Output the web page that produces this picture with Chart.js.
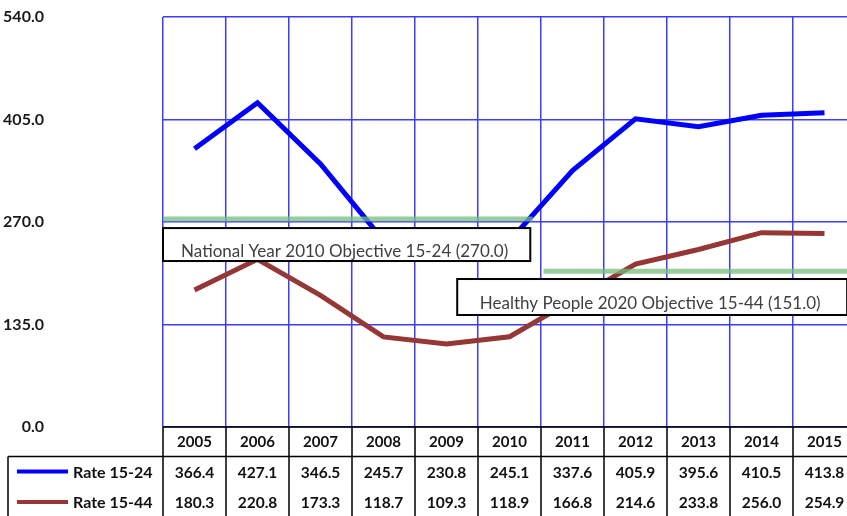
<!DOCTYPE html>
<html><head><meta charset="utf-8">
<script src="https://cdn.jsdelivr.net/npm/chart.js@4/dist/chart.umd.min.js"></script>
<style>
html,body{margin:0;padding:0;overflow:hidden;background:#fff}
#wrap{width:847px;height:516px;overflow:hidden;position:relative}
canvas{display:block}
</style>
</head><body><div id="wrap"><canvas id="c" width="862" height="516"></canvas></div>
<script>
const years = ['2005','2006','2007','2008','2009','2010','2011','2012','2013','2014','2015'];
const rate1524 = [366.4, 427.1, 346.5, 245.7, 230.8, 245.1, 337.6, 405.9, 395.6, 410.5, 413.8];
const rate1544 = [180.3, 220.8, 173.3, 118.7, 109.3, 118.9, 166.8, 214.6, 233.8, 256.0, 254.9];
const seriesNames = ['Rate 15-24', 'Rate 15-44'];
const yMin = 0, yMax = 540, yStep = 135;
// objective reference lines (levels as drawn in the picture)
const objective1Level = 274;
const objective2Level = 205;
const objective1Label = 'National Year 2010 Objective 15-24 (270.0)';
const objective2Label = 'Healthy People 2020 Objective 15-44 (151.0)';

const BLUE = '#0000ff', BROWN = '#953735', GRID = 'rgb(60,60,255)', GREEN = 'rgba(118,190,122,0.75)';
const FONT = 'Lato, "Open Sans", sans-serif';

function xAt(chart, f) {
  const x = chart.scales.x;
  const p0 = x.getPixelForValue(0), p1 = x.getPixelForValue(1);
  return p0 + f * (p1 - p0);
}

const annotPlugin = {
  id: 'annot',
  afterDatasetsDraw(chart) {
    const {ctx, chartArea: a, scales: {y}} = chart;
    ctx.save();
    ctx.strokeStyle = GREEN; ctx.lineWidth = 5; ctx.lineCap = 'butt';
    ctx.beginPath();
    ctx.moveTo(a.left, y.getPixelForValue(objective1Level));
    ctx.lineTo(xAt(chart, 5.37), y.getPixelForValue(objective1Level));
    ctx.stroke();
    ctx.beginPath();
    ctx.moveTo(xAt(chart, 5.54), y.getPixelForValue(objective2Level));
    ctx.lineTo(a.right, y.getPixelForValue(objective2Level));
    ctx.stroke();
    const box = (f0, f1, v0, v1, text) => {
      const x0 = xAt(chart, f0), x1 = xAt(chart, f1);
      const y0 = y.getPixelForValue(v0), y1 = y.getPixelForValue(v1);
      ctx.fillStyle = '#fff';
      ctx.fillRect(x0, y0, x1 - x0, y1 - y0);
      ctx.strokeStyle = '#000'; ctx.lineWidth = 2;
      ctx.strokeRect(x0, y0, x1 - x0, y1 - y0);
      ctx.fillStyle = '#404040';
      ctx.font = '17px ' + FONT;
      ctx.textAlign = 'center'; ctx.textBaseline = 'middle';
      ctx.fillText(text, (x0 + x1) / 2 - 2, (y0 + y1) / 2 + 7);
    };
    box(-0.5, 5.33, 262, 218.6, objective1Label);
    box(4.17, 10.36, 194.9, 147.5, objective2Label);
    ctx.restore();
  }
};

const tablePlugin = {
  id: 'table',
  afterDraw(chart) {
    const {ctx, chartArea: a, scales: {x}} = chart;
    const step = x.getPixelForValue(1) - x.getPixelForValue(0);
    const top = a.bottom;
    const hdrBottom = top + 29.5;
    const H = chart.height;
    ctx.save();
    ctx.strokeStyle = '#000'; ctx.lineWidth = 1.5;
    ctx.beginPath();
    ctx.moveTo(a.left, top); ctx.lineTo(a.right, top);
    ctx.moveTo(8, hdrBottom); ctx.lineTo(a.right, hdrBottom);
    ctx.moveTo(8, hdrBottom); ctx.lineTo(8, H);
    for (let i = 0; i <= years.length; i++) {
      const xx = a.left + i * step;
      ctx.moveTo(xx, top); ctx.lineTo(xx, H);
    }
    ctx.stroke();
    ctx.fillStyle = '#111';
    ctx.textAlign = 'center'; ctx.textBaseline = 'middle';
    const r1 = hdrBottom + 16, r2 = hdrBottom + 46.5;
    years.forEach((yr, i) => {
      const cx = x.getPixelForValue(i);
      ctx.font = 'bold 15px ' + FONT;
      ctx.fillText(yr, cx, top + 15);
      ctx.font = 'bold 15.5px ' + FONT;
      ctx.fillText(rate1524[i].toFixed(1), cx, r1);
      ctx.fillText(rate1544[i].toFixed(1), cx, r2);
    });
    const ds = chart.data.datasets;
    ctx.font = 'bold 16px ' + FONT;
    [r1, r2].forEach((ry, k) => {
      ctx.strokeStyle = ds[k].borderColor; ctx.lineWidth = 4;
      ctx.beginPath(); ctx.moveTo(17, ry - 1); ctx.lineTo(68, ry - 1); ctx.stroke();
      ctx.textAlign = 'left';
      ctx.fillText(ds[k].label, 73, ry);
    });
    ctx.restore();
  }
};

new Chart(document.getElementById('c'), {
  type: 'line',
  data: {
    labels: years,
    datasets: [
      {label: seriesNames[0], data: rate1524, borderColor: BLUE, borderWidth: 5, pointRadius: 0, tension: 0, fill: false},
      {label: seriesNames[1], data: rate1544, borderColor: BROWN, borderWidth: 5, pointRadius: 0, tension: 0, fill: false}
    ]
  },
  options: {
    responsive: false,
    animation: false,
    events: [],
    layout: {padding: {left: 0, right: 6, top: 17, bottom: 89}},
    plugins: {legend: {display: false}, tooltip: {enabled: false}, title: {display: false}},
    scales: {
      x: {
        type: 'category', offset: true,
        grid: {offset: true, color: GRID, lineWidth: 1.5, drawTicks: false},
        border: {display: false},
        ticks: {display: false}
      },
      y: {
        min: yMin, max: yMax,
        grid: {color: GRID, lineWidth: 1.5, drawTicks: false},
        border: {display: false},
        ticks: {stepSize: yStep, padding: 119, color: '#1a1a1a',
          font: {family: FONT, size: 16, weight: 'bold'},
          callback: v => Number(v).toFixed(1)},
        afterFit(s) { s.width = 163; s.paddingTop = 0; s.paddingBottom = 0; }
      }
    }
  },
  plugins: [annotPlugin, tablePlugin]
});
</script>
</body></html>
